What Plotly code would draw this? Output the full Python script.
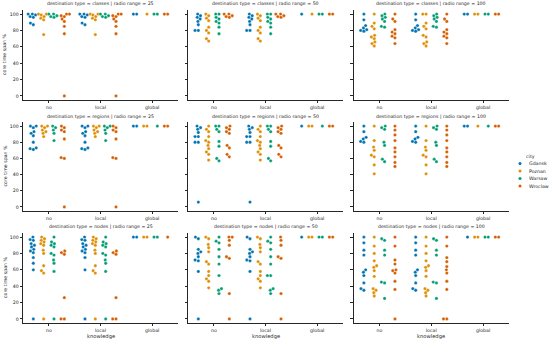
import numpy as np
import plotly.graph_objects as go

W, H = 550, 341
CITIES = ["Gdansk", "Poznan", "Warsaw", "Wroclaw"]
COLORS = ["#0173B2", "#DE8F05", "#029E73", "#D55E00"]
KNOWLEDGE = ["no", "local", "global"]
DEST_TYPES = ["classes", "regions", "nodes"]
RADIO_RANGES = [25, 50, 100]
Y_TICKS = [0, 20, 40, 60, 80, 100]

# ---- data: core time span % per city (Gdansk, Poznan, Warsaw, Wroclaw) ----
CLASSES_25_NO = [[100, 100, 99, 97, 96, 89, 87], [100, 100, 99, 97, 95, 93, 75],
                 [100, 100, 98, 97, 96], [100, 100, 98, 97, 94, 91, 85, 76, 0]]
CLASSES_25_LOCAL = [[100, 100, 99, 97, 96, 89, 87], [100, 100, 99, 97, 95, 93, 75],
                    [100, 100, 98, 97, 96], [100, 100, 98, 97, 94, 91, 85, 76, 0]]
CLASSES_25_GLOBAL = [[100, 100], [100], [100, 100], [100, 100]]

CLASSES_50_NO = [[100, 98, 96, 94, 91, 87, 80, 80], [100, 98, 95, 92, 84, 80, 77, 70, 67],
                 [100, 100, 96, 94, 91, 89, 84, 76], [100, 100, 98, 97, 96]]
CLASSES_50_LOCAL = [[100, 98, 96, 94, 91, 87, 80, 80], [100, 98, 95, 92, 84, 80, 77, 70, 67],
                    [100, 100, 96, 94, 91, 89, 84, 76], [100, 100, 98, 97, 96]]
CLASSES_50_GLOBAL = [[100], [100], [100, 100], [100, 100]]

CLASSES_100_NO = [[100, 93, 86, 83, 81, 80, 79], [100, 89, 85, 82, 74, 72, 70, 66, 64, 61],
                  [100, 98, 96, 94, 91, 85, 84], [100, 94, 91, 81, 78, 76, 73, 71, 64]]
CLASSES_100_LOCAL = [[100, 93, 86, 83, 81, 80, 79], [100, 100, 89, 85, 82, 74, 72, 66, 64, 61],
                     [100, 98, 96, 94, 91, 85, 84], [100, 94, 91, 81, 78, 76, 73, 71, 64]]
CLASSES_100_GLOBAL = [[100, 100], [100, 100], [100, 100], [100, 100]]

REGIONS_25_NO = [[100, 100, 98, 93, 91, 88, 80, 73, 72, 71], [100, 100, 98, 95, 93, 91, 87],
                 [100, 98, 95, 91, 82], [100, 98, 95, 93, 84, 61, 60, 0]]
REGIONS_25_LOCAL = [[100, 100, 98, 93, 91, 88, 80, 73, 72, 71], [100, 100, 98, 95, 93, 91, 87],
                    [100, 100, 98, 95, 91, 82], [100, 98, 95, 93, 84, 61, 60, 0]]
REGIONS_25_GLOBAL = [[100, 100], [100, 100], [100], [100, 100]]

REGIONS_50_NO = [[100, 98, 96, 92, 87, 87, 80, 80, 6], [100, 96, 93, 87, 82, 80, 76, 72, 68, 65, 58],
                 [100, 100, 96, 93, 81, 75, 60, 57], [100, 98, 96, 93, 91, 76, 73, 65, 62]]
REGIONS_50_LOCAL = [[100, 98, 96, 92, 87, 87, 80, 80, 6], [100, 96, 93, 87, 82, 80, 76, 72, 68, 65, 58],
                    [100, 100, 96, 93, 81, 75, 60, 57], [100, 98, 96, 93, 91, 76, 73, 65, 62]]
REGIONS_50_GLOBAL = [[100], [100, 100], [100], [100, 100]]

REGIONS_100_NO = [[100, 93, 86, 84, 81, 80], [100, 82, 74, 70, 64, 62, 52, 41],
                  [100, 98, 96, 80, 76, 59, 56], [100, 95, 89, 82, 73, 68, 62, 55, 50]]
REGIONS_100_LOCAL = [[100, 93, 86, 84, 81, 80], [100, 82, 74, 70, 64, 62, 52, 41],
                     [100, 98, 96, 80, 76, 59, 56], [100, 95, 89, 82, 73, 68, 62, 55, 50]]
REGIONS_100_GLOBAL = [[100, 100], [100], [100], [100, 100]]

NODES_25_NO = [[100, 97, 96, 92, 90, 88, 85, 83, 81, 75, 68, 60, 0],
               [100, 98, 96, 94, 92, 90, 84, 80, 65, 59, 56, 0],
               [100, 94, 92, 90, 88, 80, 78, 72, 68, 58, 0], [83, 81, 79, 26, 0, 0]]
NODES_25_LOCAL = [[100, 97, 96, 92, 90, 88, 85, 83, 81, 75, 60, 0],
                  [100, 98, 96, 94, 92, 90, 84, 80, 65, 59, 56, 0],
                  [100, 94, 92, 90, 88, 80, 78, 72, 68, 58, 0], [83, 81, 79, 26, 0, 0]]
NODES_25_GLOBAL = [[100, 100], [100, 100], [100, 100], [100]]

NODES_50_NO = [[100, 98, 85, 82, 80, 76, 72, 71, 58, 0],
               [100, 98, 91, 87, 82, 70, 67, 58, 53, 49, 46, 38],
               [100, 95, 93, 85, 76, 67, 53, 37, 35, 31], [100, 100, 96, 90, 76, 74, 31, 0]]
NODES_50_LOCAL = [[100, 98, 85, 82, 80, 76, 72, 71, 58, 0],
                  [100, 98, 91, 87, 82, 70, 67, 58, 53, 49, 46, 38],
                  [100, 95, 93, 85, 76, 67, 53, 53, 37, 35, 31], [100, 96, 90, 76, 74, 31, 0]]
NODES_50_GLOBAL = [[100], [100, 100], [100, 100], [100, 100]]

NODES_100_NO = [[100, 93, 84, 78, 60, 57, 53, 44, 37, 35],
                [100, 89, 80, 71, 65, 63, 59, 52, 37, 35, 32, 28],
                [98, 96, 84, 78, 45, 44, 25], [100, 89, 72, 67, 60, 59, 56, 46, 36, 0]]
NODES_100_LOCAL = [[100, 93, 84, 78, 60, 57, 53, 44, 37, 35],
                   [100, 89, 80, 71, 65, 63, 59, 52, 37, 35, 32, 28],
                   [98, 96, 84, 78, 45, 44, 25], [100, 89, 75, 70, 64, 60, 56, 46, 36, 0, 0]]
NODES_100_GLOBAL = [[100], [100, 100], [100, 100], [100, 100]]

PANELS = {
    ("classes", 25): [CLASSES_25_NO, CLASSES_25_LOCAL, CLASSES_25_GLOBAL],
    ("classes", 50): [CLASSES_50_NO, CLASSES_50_LOCAL, CLASSES_50_GLOBAL],
    ("classes", 100): [CLASSES_100_NO, CLASSES_100_LOCAL, CLASSES_100_GLOBAL],
    ("regions", 25): [REGIONS_25_NO, REGIONS_25_LOCAL, REGIONS_25_GLOBAL],
    ("regions", 50): [REGIONS_50_NO, REGIONS_50_LOCAL, REGIONS_50_GLOBAL],
    ("regions", 100): [REGIONS_100_NO, REGIONS_100_LOCAL, REGIONS_100_GLOBAL],
    ("nodes", 25): [NODES_25_NO, NODES_25_LOCAL, NODES_25_GLOBAL],
    ("nodes", 50): [NODES_50_NO, NODES_50_LOCAL, NODES_50_GLOBAL],
    ("nodes", 100): [NODES_100_NO, NODES_100_LOCAL, NODES_100_GLOBAL],
}

# ---- layout geometry (pixels) ----
COL_PX = [(23, 178), (188, 343), (353.5, 509)]
ROW_PX = [(10, 100), (122, 211), (233, 323)]
Y_RANGE = [-5, 105]
X_RANGE = [-0.5, 2.5]
MARKER_PX = 3.3
TEXT = "#262626"
FONT = "DejaVu Sans"
FS = 4.7


def px2x(p):
    return p / W


def px2y(p):
    return 1 - p / H


def swarm(values, center, dx, dy, half):
    vals = np.asarray(values, float)
    order = np.argsort(vals, kind="stable")
    placed = []
    xs = np.zeros(len(vals))
    for i in order:
        y = vals[i] / dy
        cands = [0.0]
        for (qx, qy) in placed:
            d = y - qy
            if abs(d) < 1:
                s = np.sqrt(1 - d * d)
                cands += [qx + s, qx - s]
        cands = sorted(set(cands), key=lambda c: (abs(c), c))
        chosen = cands[-1]
        for c in cands:
            if all((c - qx) ** 2 + (y - qy) ** 2 >= 1 - 1e-9 for qx, qy in placed):
                chosen = c
                break
        placed.append((chosen, y))
        xs[i] = center + float(np.clip(chosen * dx, -half, half))
    return xs


fig = go.Figure()
layout = {}
annotations = []
offsets = [-0.3, -0.1, 0.1, 0.3]

for r, dest in enumerate(DEST_TYPES):
    for c, rr in enumerate(RADIO_RANGES):
        idx = r * 3 + c + 1
        sfx = "" if idx == 1 else str(idx)
        x0, x1 = COL_PX[c]
        y0, y1 = ROW_PX[r]
        xppu = (x1 - x0) / (X_RANGE[1] - X_RANGE[0])
        yppu = (y1 - y0) / (Y_RANGE[1] - Y_RANGE[0])
        dx = MARKER_PX / xppu
        dy = MARKER_PX / yppu
        groups = PANELS[(dest, rr)]
        for ci, city in enumerate(CITIES):
            xs_all, ys_all = [], []
            for k, grp in enumerate(groups):
                vals = grp[ci]
                xs = swarm(vals, k + offsets[ci], dx, dy, 0.1)
                xs_all += list(xs)
                ys_all += list(vals)
            fig.add_trace(go.Scatter(
                x=xs_all, y=ys_all, mode="markers",
                marker=dict(size=MARKER_PX, color=COLORS[ci],
                            line=dict(width=0.3, color="white")),
                xaxis="x" + sfx, yaxis="y" + sfx, showlegend=False,
                name=city, hoverinfo="skip"))
        axstyle = dict(showline=True, linecolor=TEXT, linewidth=0.8, ticks="outside",
                       ticklen=2.5, tickwidth=0.7, tickcolor=TEXT, showgrid=False,
                       zeroline=False, tickfont=dict(size=FS, color=TEXT, family=FONT))
        layout["xaxis" + sfx] = dict(domain=[px2x(x0), px2x(x1)], range=X_RANGE,
                                     tickvals=[0, 1, 2], ticktext=KNOWLEDGE,
                                     anchor="y" + sfx, **axstyle)
        layout["yaxis" + sfx] = dict(domain=[px2y(y1), px2y(y0)], range=Y_RANGE,
                                     tickvals=Y_TICKS, showticklabels=(c == 0),
                                     anchor="x" + sfx, **axstyle)
        annotations.append(dict(
            text=f"destination type = {dest} | radio range = {rr}",
            x=px2x((x0 + x1) / 2), y=px2y(y0), xref="paper", yref="paper",
            xanchor="center", yanchor="bottom", yshift=0.5, showarrow=False,
            font=dict(size=FS, color=TEXT, family=FONT)))

# axis titles
for r in range(3):
    y0, y1 = ROW_PX[r]
    annotations.append(dict(text="core time span %", x=px2x(5), y=px2y((y0 + y1) / 2),
                            xref="paper", yref="paper", textangle=-90, showarrow=False,
                            xanchor="center", yanchor="middle",
                            font=dict(size=FS, color=TEXT, family=FONT)))
for c in range(3):
    x0, x1 = COL_PX[c]
    annotations.append(dict(text="knowledge", x=px2x((x0 + x1) / 2), y=px2y(336),
                            xref="paper", yref="paper", showarrow=False,
                            xanchor="center", yanchor="middle",
                            font=dict(size=5.2, color=TEXT, family=FONT)))

# legend (drawn manually)
annotations.append(dict(text="city", x=px2x(524), y=px2y(156), xref="paper", yref="paper",
                        showarrow=False, xanchor="left", yanchor="middle",
                        font=dict(size=FS, color=TEXT, family=FONT)))
shapes = []
for i, city in enumerate(CITIES):
    yy = 163.5 + i * 7.5
    shapes.append(dict(type="circle", xref="paper", yref="paper",
                       x0=px2x(518.5), x1=px2x(521.5), y0=px2y(yy + 1.5), y1=px2y(yy - 1.5),
                       fillcolor=COLORS[i], line=dict(width=0)))
    annotations.append(dict(text=city, x=px2x(527), y=px2y(yy), xref="paper", yref="paper",
                            showarrow=False, xanchor="left", yanchor="middle",
                            font=dict(size=FS, color=TEXT, family=FONT)))

fig.update_layout(width=W, height=H, margin=dict(l=0, r=0, t=0, b=0),
                  plot_bgcolor="white", paper_bgcolor="white", showlegend=False,
                  annotations=annotations, shapes=shapes, **layout)
fig.write_html("out.html", config={"displayModeBar": False},
               post_script="document.body.style.margin='0';")
